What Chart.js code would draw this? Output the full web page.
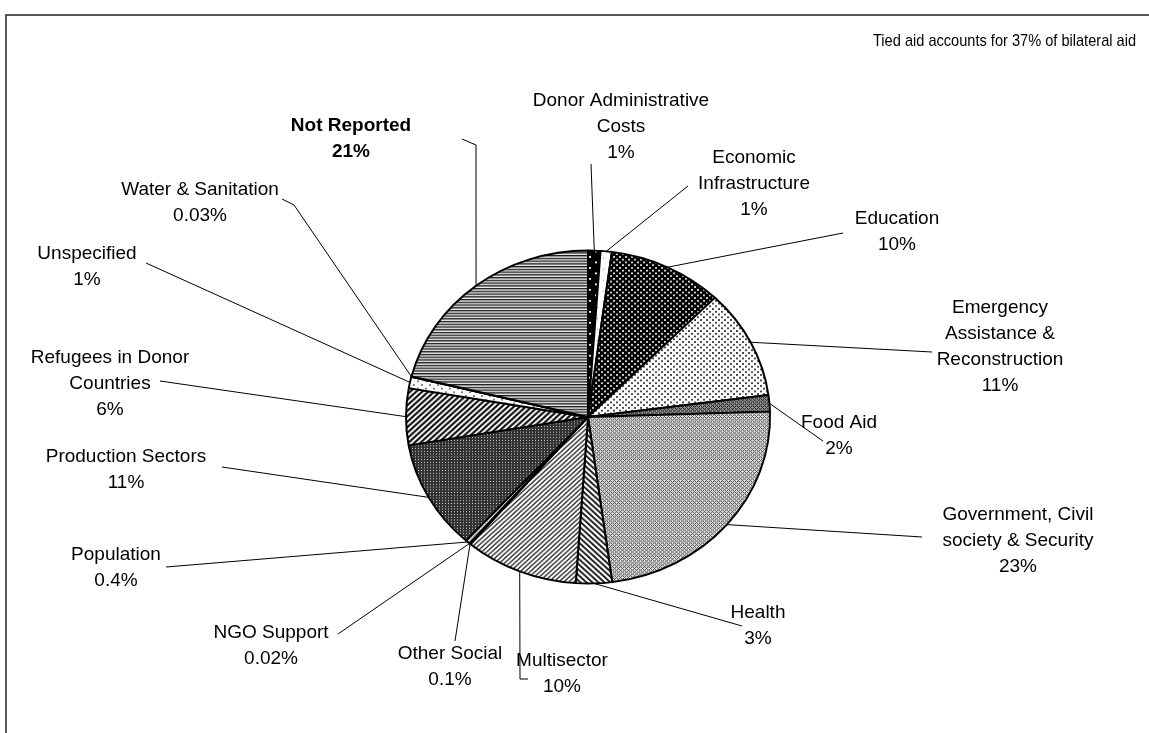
<!DOCTYPE html>
<html><head><meta charset="utf-8">
<script src="https://cdn.jsdelivr.net/npm/chart.js@4/dist/chart.umd.min.js"></script>
<style>html,body{margin:0;padding:0;background:#fff}#wrap{position:relative;width:1149px;height:733px}</style>
</head><body><div id="wrap"><canvas id="c"></canvas></div>
<script>
// ---------- data ----------
const categories = ['Donor Administrative Costs','Economic Infrastructure','Education','Emergency Assistance & Reconstruction','Food Aid','Government, Civil society & Security','Health','Multisector','Other Social','NGO Support','Population','Production Sectors','Refugees in Donor Countries','Unspecified','Water & Sanitation','Not Reported'];
const sharePercent = [1.1, 1.0, 10.2, 10.6, 1.6, 23.4, 3.2, 10.1, 0.1, 0.02, 0.4, 10.6, 5.5, 1.1, 0.03, 21.1];
const shareLabels = ['1%','1%','10%','11%','2%','23%','3%','10%','0.1%','0.02%','0.4%','11%','6%','1%','0.03%','21%'];
const categoryLines = [['Donor Administrative','Costs'],['Economic','Infrastructure'],['Education'],['Emergency','Assistance &','Reconstruction'],['Food Aid'],['Government, Civil','society & Security'],['Health'],['Multisector'],['Other Social'],['NGO Support'],['Population'],['Production Sectors'],['Refugees in Donor','Countries'],['Unspecified'],['Water & Sanitation'],['Not Reported']];
const boldCategories = ['Not Reported'];
const noteText = 'Tied aid accounts for 37% of bilateral aid';

// ---------- layout (not data) ----------
const labelPos = [[621,101],[754,158],[897,219],[1000,308],[839,423],[1018,515],[758,613],[562,661],[450,654],[271,633],[116,555],[126,457],[110,358],[87,254],[200,190],[351,126]];
const leaderPts = [[[591,164]],[[688,186]],[[843,233]],[[932,352]],[[823,441]],[[922,537]],[[742,626]],[[520,679],[528,679]],[[455,641]],[[338,634]],[[166,567]],[[222,467]],[[160,381]],[[146,263]],[[294,205],[282,199]],[[476,145],[462,139]]];
const LINE_H = 26;
const LABEL_FONT = 19;
const ELLIPSE_K = 0.915;

const canvas = document.getElementById('c');
const ctx0 = canvas.getContext('2d');
function makePattern(w, h, fn) {
  const c = document.createElement('canvas'); c.width = w; c.height = h;
  const g = c.getContext('2d'); const img = g.createImageData(w, h);
  for (let y = 0; y < h; y++) for (let x = 0; x < w; x++) {
    const v = fn(x, y); const i = (y * w + x) * 4;
    img.data[i] = img.data[i+1] = img.data[i+2] = v; img.data[i+3] = 255;
  }
  g.putImageData(img, 0, 0);
  return ctx0.createPattern(c, 'repeat');
}
const dot2 = (x, y, p) => ((x % p) >= 1 && (x % p) <= 2 && (y % p) >= 1 && (y % p) <= 2);
const stagger = (x, y, p) => dot2(x, y, p) || dot2(x + p/2, y + p/2, p);
const diagGrid = (x, y) => ((x + y) % 4 === 0 || ((x - y) % 4 + 4) % 4 === 0);
const patterns = [
  makePattern(12,12,(x,y)=>stagger(x,y,12)?240:0),
  makePattern(12,12,(x,y)=>((x===3&&y===3)||(x===9&&y===9))?110:255),
  makePattern(6,6,(x,y)=>stagger(x,y,6)?205:0),
  makePattern(6,6,(x,y)=>stagger(x,y,6)?70:255),
  makePattern(4,4,(x,y)=>diagGrid(x,y)?25:150),
  makePattern(4,4,(x,y)=>diagGrid(x,y)?80:222),
  makePattern(6,6,(x,y)=>[30,30,120,255,255,200][((x-y)%6+6)%6]),
  makePattern(5,5,(x,y)=>[40,130,255,255,170][(x+y)%5]),
  makePattern(4,4,(x,y)=>(x%4===0&&y%4===0)?100:240),
  makePattern(2,2,(x,y)=>(x+y)%2?160:240),
  makePattern(4,4,(x,y)=>diagGrid(x,y)?140:240),
  makePattern(3,3,(x,y)=>(x===1&&y===1)?215:50),
  makePattern(6,6,(x,y)=>[20,20,110,255,255,110][(x+y)%6]),
  makePattern(8,8,(x,y)=>(dot2(x,y,8)||dot2(x+4,y+4,8))?130:255),
  makePattern(2,2,()=>255),
  makePattern(1,3,(x,y)=>[30,140,235][y%3])
];

const ellipsePlugin = {
  id: 'ellipse',
  beforeDatasetsDraw(chart) {
    const a = chart.getDatasetMeta(0).data[0];
    const ctx = chart.ctx; ctx.save();
    ctx.translate(a.x, a.y); ctx.scale(1, ELLIPSE_K); ctx.translate(-a.x, -a.y);
  },
  afterDatasetsDraw(chart) { chart.ctx.restore(); },
  afterDraw(chart) {
    const ctx = chart.ctx;
    const arcs = chart.getDatasetMeta(0).data;
    ctx.save();
    // frame
    ctx.strokeStyle = '#222'; ctx.lineWidth = 1.5;
    ctx.beginPath(); ctx.moveTo(6, 733); ctx.lineTo(6, 15); ctx.lineTo(1149, 15); ctx.stroke();
    // note (slightly condensed, as in the reference)
    ctx.fillStyle = '#000';
    ctx.font = '17px "Liberation Sans", Arial, sans-serif';
    ctx.textAlign = 'right'; ctx.textBaseline = 'middle';
    ctx.fillText(noteText, 1136, 41, 263);
    // leaders
    ctx.strokeStyle = '#000'; ctx.lineWidth = 1;
    arcs.forEach((arc, i) => {
      const m = (arc.startAngle + arc.endAngle) / 2;
      const r = arc.outerRadius;
      const px = arc.x + r * Math.cos(m), py = arc.y + r * ELLIPSE_K * Math.sin(m);
      ctx.beginPath(); ctx.moveTo(px, py);
      leaderPts[i].forEach(p => ctx.lineTo(p[0], p[1]));
      ctx.stroke();
    });
    // labels
    ctx.textAlign = 'center';
    categories.forEach((cat, i) => {
      const bold = boldCategories.includes(cat);
      ctx.font = (bold ? 'bold ' : '') + LABEL_FONT + 'px "Liberation Sans", Arial, sans-serif';
      const lines = categoryLines[i].concat([shareLabels[i]]);
      lines.forEach((t, j) => ctx.fillText(t, labelPos[i][0], labelPos[i][1] + j * LINE_H));
    });
    ctx.restore();
  }
};

new Chart(canvas, {
  type: 'pie',
  data: { labels: categories, datasets: [{ data: sharePercent, backgroundColor: patterns, borderColor: '#000', borderWidth: 2 }] },
  options: {
    responsive: true, maintainAspectRatio: false, animation: false, events: [],
    layout: { padding: { left: 405, right: 378, top: 234, bottom: 133 } },
    plugins: { legend: { display: false }, tooltip: { enabled: false }, title: { display: false } }
  },
  plugins: [ellipsePlugin]
});
</script></body></html>
